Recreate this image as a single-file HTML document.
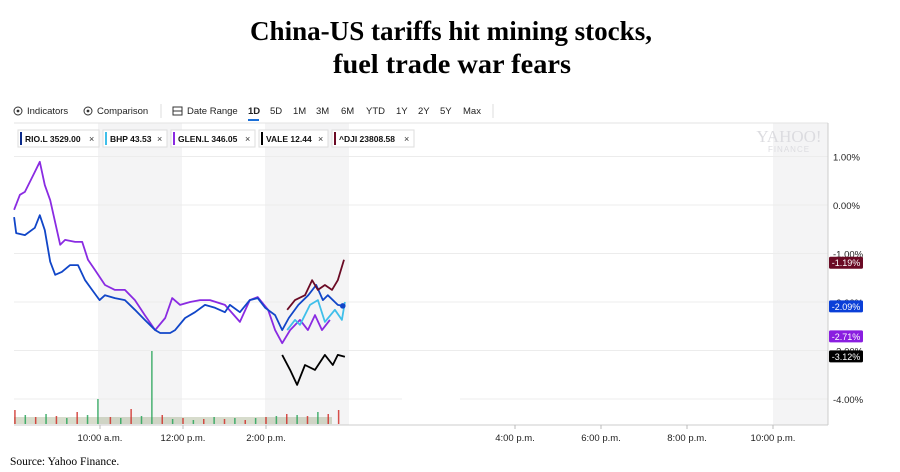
<!DOCTYPE html>
<html><head><meta charset="utf-8">
<style>
body{margin:0;background:#fff;width:900px;height:472px;overflow:hidden;font-family:"Liberation Sans",sans-serif}
svg{display:block}
</style></head>
<body>
<svg id="chart" width="900" height="472" viewBox="0 0 900 472">
<g font-family="Liberation Serif, serif" font-weight="bold" font-size="27" text-anchor="middle" fill="#000">
<text x="451" y="40" textLength="402" lengthAdjust="spacingAndGlyphs">China-US tariffs hit mining stocks,</text>
<text x="452" y="73" textLength="238" lengthAdjust="spacingAndGlyphs">fuel trade war fears</text>
</g>
<g id="toolbar" font-size="9.5" fill="#222"></g>
<g id="plot"></g>
<g id="legend"></g>
<text x="10" y="465" font-family="Liberation Serif, serif" font-size="11.5" fill="#000">Source: Yahoo Finance.</text>
</svg>
<script>
// ---- data ----
const yTicks = [1, 0, -1, -2, -3, -4];
const xTickHours = [10, 12, 14, 16, 18, 20, 22];
const xTickLabels = ["10:00 a.m.", "12:00 p.m.", "2:00 p.m.", "4:00 p.m.", "6:00 p.m.", "8:00 p.m.", "10:00 p.m."];
const rioHours = [7.93,7.98,8.19,8.43,8.55,8.67,8.80,8.92,9.08,9.28,9.47,9.64,9.81,9.99,10.12,10.36,10.60,10.84,11.08,11.33,11.45,11.69,11.81,12.05,12.29,12.53,12.77,13.01,13.13,13.37,13.61,13.80,13.98,14.22,14.39,14.55,14.78,15.02,15.21,15.37,15.49,15.73,15.85];
const rioValues = [-0.25,-0.58,-0.62,-0.47,-0.21,-0.52,-1.17,-1.44,-1.38,-1.24,-1.24,-1.55,-1.75,-1.96,-1.86,-1.92,-1.96,-2.16,-2.37,-2.58,-2.64,-2.64,-2.58,-2.33,-2.21,-2.06,-2.12,-2.21,-2.06,-2.21,-1.96,-1.92,-2.12,-2.27,-2.58,-2.33,-2.06,-1.86,-1.65,-1.96,-1.86,-2.06,-2.08];
const glenHours = [7.93,8.07,8.19,8.43,8.55,8.67,8.80,9.04,9.16,9.40,9.57,9.71,9.88,10.12,10.36,10.60,10.84,11.08,11.33,11.57,11.74,11.93,12.17,12.41,12.65,13.01,13.37,13.61,13.80,14.05,14.22,14.39,14.58,14.82,15.01,15.18,15.35,15.54];
const glenValues = [-0.10,0.21,0.27,0.68,0.89,0.41,0.10,-0.82,-0.72,-0.76,-0.76,-1.13,-1.34,-1.65,-1.75,-1.75,-1.96,-2.27,-2.58,-2.33,-1.92,-2.06,-2.00,-1.96,-1.96,-2.06,-2.41,-1.96,-1.90,-2.16,-2.58,-2.85,-2.58,-2.37,-2.58,-2.27,-2.58,-2.37];
const bhpHours = [14.51,14.70,14.82,15.06,15.25,15.42,15.66,15.83,15.90];
const bhpValues = [-2.58,-2.37,-2.47,-2.06,-1.96,-2.41,-2.16,-2.37,-2.00];
const valeHours = [14.39,14.58,14.75,14.94,15.18,15.42,15.61,15.73,15.90];
const valeValues = [-3.09,-3.40,-3.71,-3.30,-3.40,-3.09,-3.30,-3.09,-3.13];
const djiHours = [14.51,14.70,14.94,15.11,15.25,15.42,15.59,15.73,15.88];
const djiValues = [-2.16,-1.96,-1.86,-1.55,-1.75,-1.65,-1.75,-1.55,-1.13];
const volHours = [7.95,8.2,8.45,8.7,8.95,9.2,9.45,9.7,9.95,10.25,10.5,10.75,11.0,11.25,11.5,11.75,12.0,12.25,12.5,12.75,13.0,13.25,13.5,13.75,14.0,14.25,14.5,14.75,15.0,15.25,15.5,15.75];
const volValues = [14,9,7,10,8,6,12,9,25,7,6,15,8,73,9,5,6,4,5,7,5,6,4,6,7,8,10,9,8,12,10,14];
const volUp = [0,1,0,1,0,1,0,1,1,0,1,0,1,1,0,1,0,1,0,1,0,1,0,1,0,1,0,1,0,1,0,0];
const badgeLabels = ["-1.19%","-2.09%","-2.71%","-3.12%"];
const badgeValues = [-1.19,-2.09,-2.71,-3.12];
const badgeColors = ["#6b0b25","#0a3fd8","#8a1ee0","#000"];

// ---- scales ----
const y0 = 205, pxPerPct = 48.5;
function yScale(v){ return y0 - v * pxPerPct; }
function xScale(h){ return 100 + (h - 10) * 41.5; }
function xTickScale(h){
  if (h <= 14) return 100 + (h - 10) * 41.5;
  return 515 + (h - 16) * 43;
}
const NS = "http://www.w3.org/2000/svg";
function mk(parent, tag, attrs, text){
  const e = document.createElementNS(NS, tag);
  for (const k in attrs) e.setAttribute(k, attrs[k]);
  if (text !== undefined) e.textContent = text;
  parent.appendChild(e); return e;
}
const plot = document.getElementById("plot");

// background shading
[[98,182],[265,349],[773,828]].forEach(b=>{
  const r = mk(plot,"rect",{x:b[0],y:123,width:b[1]-b[0],height:302,fill:"#f4f4f5"});
  
  
});
mk(plot,"line",{x1:14,y1:123,x2:828,y2:123,stroke:"#e3e3e3"});
// watermark
const wm = mk(plot,"text",{x:789,y:142,"font-size":17,fill:"#dcdce0","text-anchor":"middle","font-family":"Liberation Serif, serif"},"YAHOO!");


mk(plot,"text",{x:789,y:152,"font-size":8,fill:"#dcdce0","text-anchor":"middle","letter-spacing":"1"},"FINANCE");

// y grid + labels
yTicks.forEach(t=>{
  const y = yScale(t);
  const g = mk(plot,"line",{x1:14,y1:y,x2:828,y2:y,stroke:"#ececec"});
  
  
  const l = mk(plot,"text",{x:833,y:y+4,"font-size":9.5,fill:"#222"},t.toFixed(2)+"%");
  
  
});
mk(plot,"rect",{x:402,y:385,width:58,height:24,fill:"#fff"});
mk(plot,"line",{x1:828,y1:123,x2:828,y2:425,stroke:"#ccc"});
mk(plot,"line",{x1:14,y1:425,x2:828,y2:425,stroke:"#ccc"});

// x ticks
xTickHours.forEach((h,i)=>{
  const x = xTickScale(h);
  mk(plot,"line",{x1:x,y1:425,x2:x,y2:429,stroke:"#bbb"});
  const l = mk(plot,"text",{x:x,y:441,"font-size":9.5,fill:"#222","text-anchor":"middle"},xTickLabels[i]);
  
  
});

// volume bars
mk(plot,"rect",{x:14,y:417,width:318,height:7,fill:"#7a8a55",opacity:0.3});
volHours.forEach((h,i)=>{
  const x = xScale(h);
  const b = mk(plot,"rect",{x:x-0.75,y:424-volValues[i],width:1.5,height:volValues[i],fill:(volUp[i]? "#2aa55a":"#d0302a"),opacity:0.85});
  
  
});

function line(hours, vals, color, name, w){
  const d = hours.map((h,i)=>(i?"L":"M")+xScale(h).toFixed(1)+","+yScale(vals[i]).toFixed(1)).join("");
  const p = mk(plot,"path",{d:d,fill:"none",stroke:color,"stroke-width":w||1.8,"stroke-linejoin":"round"});
  
  
  return p;
}
line(glenHours, glenValues, "#8a2be2", "glen-line");
line(rioHours, rioValues, "#1146c8", "rio-line");
line(bhpHours, bhpValues, "#3fbfea", "bhp-line");
line(djiHours, djiValues, "#6b0b25", "dji-line");
line(valeHours, valeValues, "#000", "vale-line");
const lastR = rioHours.length-1;
mk(plot,"circle",{cx:xScale(rioHours[lastR]),cy:yScale(rioValues[lastR]),r:2.8,fill:"#1146c8"});

// right badges
badgeValues.forEach((v,i)=>{
  const y = yScale(v);
  const r = mk(plot,"rect",{x:829,y:y-6,width:34,height:12,rx:1.5,fill:badgeColors[i]});
  
  
  mk(plot,"text",{x:846,y:y+3.5,"font-size":9,fill:"#fff","text-anchor":"middle"},badgeLabels[i]);
});

// toolbar
const tb = document.getElementById("toolbar");
function circIcon(x){ mk(tb,"circle",{cx:x,cy:111,r:4,fill:"none",stroke:"#333"}); mk(tb,"circle",{cx:x,cy:111,r:1.4,fill:"#333"}); }
circIcon(18); circIcon(88);
const t1 = mk(tb,"text",{x:27,y:114},"Indicators");
 
const t2 = mk(tb,"text",{x:97,y:114},"Comparison");
 
mk(tb,"line",{x1:161,y1:104,x2:161,y2:118,stroke:"#ddd"});
mk(tb,"rect",{x:173,y:107,width:9,height:8,fill:"none",stroke:"#333"});
mk(tb,"line",{x1:173,y1:111,x2:182,y2:111,stroke:"#333"});
const t3 = mk(tb,"text",{x:187,y:114},"Date Range");
 
const ranges = ["1D","5D","1M","3M","6M","YTD","1Y","2Y","5Y","Max"];
const rangeX = [248,270,293,316,341,366,396,418,440,463];
ranges.forEach((r,i)=>{
  const t = mk(tb,"text",{x:rangeX[i],y:114,"font-weight":i===0?"bold":"normal"},r);
  
  
});
mk(tb,"rect",{x:248,y:119,width:11,height:2,fill:"#1a6fd8"});
mk(tb,"line",{x1:493,y1:104,x2:493,y2:118,stroke:"#ddd"});

// legend chips
const lg = document.getElementById("legend");
const chipText = ["RIO.L 3529.00","BHP 43.53","GLEN.L 346.05","VALE 12.44","^DJI 23808.58"];
const chipColors = ["#0a2a8a","#3fbfea","#8a2be2","#000","#6b0b25"];
const chipX = [18,103,171,259,332];
const chipW = [81,64,84,69,82];
chipText.forEach((t,i)=>{
  const g = mk(lg,"g",{});
  
  
  mk(g,"rect",{x:chipX[i],y:130,width:chipW[i],height:17,fill:"#fff",stroke:"#ddd"});
  mk(g,"rect",{x:chipX[i]+2,y:132,width:2,height:13,fill:chipColors[i]});
  mk(g,"text",{x:chipX[i]+7,y:142,"font-size":8.5,"font-weight":"bold",fill:"#111"},t);
  mk(g,"text",{x:chipX[i]+chipW[i]-10,y:142,"font-size":9,fill:"#333"},"×");
});
</script>
</body></html>
